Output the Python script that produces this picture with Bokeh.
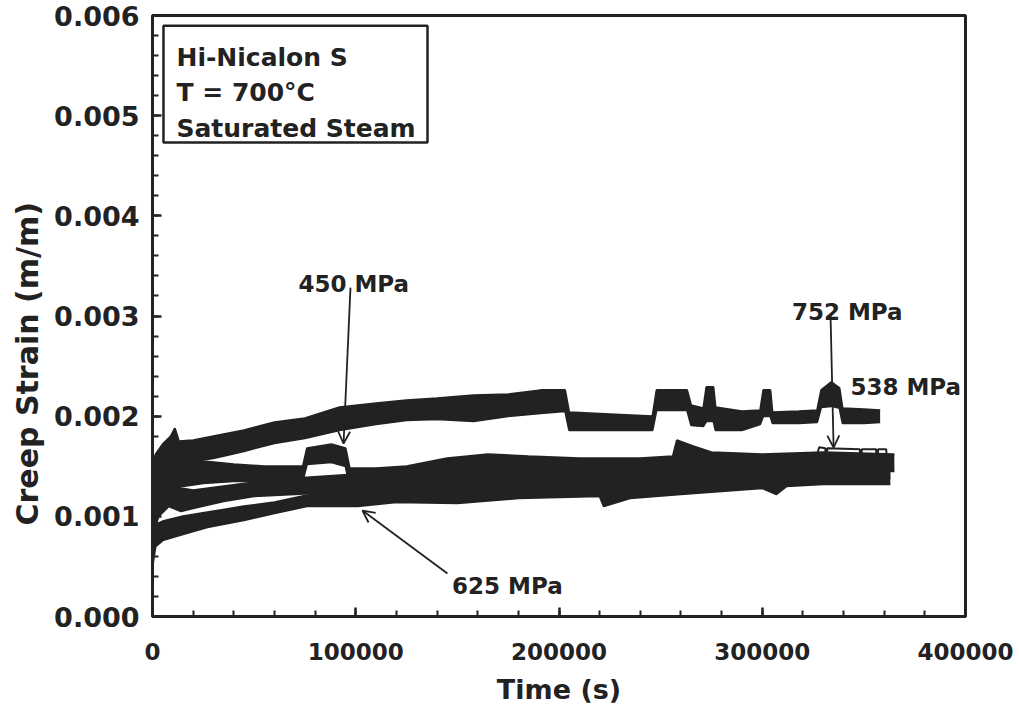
from bokeh.plotting import figure
from bokeh.models import (Range1d, FixedTicker, PrintfTickFormatter, BasicTickFormatter,
                          Label, Arrow, OpenHead, BoxAnnotation, Title)
from bokeh.embed import file_html
from bokeh.resources import INLINE

# ---------------- data (strain values in 1e-3 m/m, time in s) ----------------
t_538 = [0, 1500, 5000, 9000, 11000, 13000, 20000, 30000, 45000, 60000, 75000, 92000,
         110000, 125000, 140000, 158000, 175000, 191000, 203000, 205000, 225000, 246000,
         248000, 263000, 265000, 271000, 272500, 276000, 277000, 290000, 299000, 300500,
         304000, 305000, 318000, 327000, 329000, 334000, 338000, 339500, 350000, 358000]
lo_538 = [1.20, 1.40, 1.45, 1.50, 1.55, 1.52, 1.55, 1.58, 1.65, 1.73, 1.78, 1.86,
          1.92, 1.96, 1.97, 1.95, 2.00, 2.03, 2.05, 1.86, 1.86, 1.86,
          2.06, 2.06, 1.91, 1.90, 1.95, 1.95, 1.86, 1.86, 1.92, 2.00,
          2.00, 1.93, 1.93, 1.94, 2.09, 2.10, 2.08, 1.93, 1.93, 1.94]
hi_538 = [1.45, 1.62, 1.72, 1.80, 1.88, 1.75, 1.76, 1.80, 1.86, 1.94, 1.98, 2.09,
          2.13, 2.16, 2.18, 2.21, 2.22, 2.26, 2.26, 2.04, 2.02, 2.00,
          2.26, 2.26, 2.11, 2.08, 2.29, 2.29, 2.09, 2.05, 2.06, 2.26,
          2.26, 2.04, 2.05, 2.06, 2.26, 2.34, 2.28, 2.08, 2.07, 2.06]

t_450 = [0, 3000, 8000, 15000, 25000, 40000, 55000, 74000, 76000, 88000, 95000, 97000,
         110000, 125000, 145000, 165000, 185000, 210000, 240000, 256000, 258000, 266000,
         275000, 300000, 330000, 365000]
lo_450 = [1.00, 1.25, 1.32, 1.30, 1.33, 1.35, 1.35, 1.36, 1.52, 1.54, 1.50, 1.30,
          1.32, 1.35, 1.40, 1.45, 1.42, 1.40, 1.40, 1.42, 1.52, 1.50,
          1.45, 1.44, 1.45, 1.45]
hi_450 = [1.25, 1.45, 1.55, 1.52, 1.55, 1.52, 1.50, 1.50, 1.68, 1.72, 1.68, 1.48,
          1.48, 1.50, 1.58, 1.62, 1.60, 1.58, 1.58, 1.60, 1.76, 1.70,
          1.64, 1.62, 1.64, 1.62]

t_625 = [0, 1500, 5000, 15000, 27000, 45000, 60000, 76000, 90000, 101000, 120000,
         150000, 180000, 220000, 222000, 235000, 260000, 300000, 307000, 312000,
         330000, 363000]
lo_625 = [0.50, 0.70, 0.76, 0.82, 0.89, 0.96, 1.03, 1.10, 1.10, 1.10, 1.14,
          1.13, 1.18, 1.20, 1.10, 1.18, 1.22, 1.28, 1.22, 1.30,
          1.32, 1.32]
hi_625 = [0.80, 0.92, 0.95, 1.00, 1.04, 1.10, 1.14, 1.21, 1.24, 1.25, 1.30,
          1.35, 1.38, 1.40, 1.40, 1.40, 1.42, 1.45, 1.43, 1.48,
          1.50, 1.50]

t_752 = [0, 3000, 8000, 14000, 20000, 35000, 50000, 70000, 100000, 130000, 160000,
         190000, 220000, 250000, 280000, 305000, 308000, 312000, 326000, 363000]
lo_752 = [0.80, 1.00, 1.10, 1.05, 1.08, 1.15, 1.20, 1.22, 1.25, 1.28, 1.32,
          1.32, 1.30, 1.32, 1.35, 1.36, 1.28, 1.36, 1.38, 1.38]
hi_752 = [1.10, 1.30, 1.38, 1.28, 1.26, 1.30, 1.34, 1.38, 1.42, 1.45, 1.55,
          1.55, 1.52, 1.52, 1.55, 1.56, 1.50, 1.56, 1.58, 1.58]
# final, less noisy part of the 752 MPa record
t_752_end = [326000, 328000, 331000, 331500, 332000, 348000, 348500, 349000,
             356000, 356500, 357000, 361000, 361500]
s_752_end = [1.55, 1.69, 1.68, 1.50, 1.68, 1.67, 1.48, 1.67, 1.67, 1.50, 1.67,
             1.67, 1.45]

x_ticks = [0, 100000, 200000, 300000, 400000]
y_ticks = [0.000, 0.001, 0.002, 0.003, 0.004, 0.005, 0.006]

INK = "#222222"
FONT = "DejaVu Sans"

def sc(v):
    return [a * 1e-3 for a in v]

p = figure(frame_width=813, frame_height=601,
           min_border_left=152, min_border_right=54, min_border_top=15, min_border_bottom=98,
           x_range=Range1d(0, 400000), y_range=Range1d(0, 0.006),
           output_backend="svg", toolbar_location=None)
p.grid.visible = False
p.outline_line_color = INK
p.outline_line_width = 3
p.background_fill_color = "white"
p.border_fill_color = "white"

for t, lo, hi in [(t_625, lo_625, hi_625), (t_752, lo_752, hi_752),
                  (t_450, lo_450, hi_450), (t_538, lo_538, hi_538)]:
    p.varea(x=t, y1=sc(lo), y2=sc(hi), fill_color=INK)
    p.line(x=t, y=sc(lo), line_color=INK, line_width=2)
    p.line(x=t, y=sc(hi), line_color=INK, line_width=2)
p.line(x=t_752_end, y=sc(s_752_end), line_color=INK, line_width=2)

# axes
p.xaxis.ticker = FixedTicker(ticks=x_ticks, minor_ticks=list(range(0, 400001, 20000)))
p.xaxis.formatter = BasicTickFormatter(use_scientific=False)
p.yaxis.ticker = FixedTicker(ticks=y_ticks, minor_ticks=[i * 0.0002 for i in range(31)])
p.yaxis.formatter = PrintfTickFormatter(format="%.3f")
for ax in (p.xaxis[0], p.yaxis[0]):
    ax.axis_line_color = INK
    ax.axis_line_width = 3
    ax.major_tick_line_color = INK
    ax.major_tick_line_width = 2.5
    ax.minor_tick_line_color = INK
    ax.minor_tick_line_width = 2
    ax.major_tick_in = 9
    ax.major_tick_out = 0
    ax.minor_tick_in = 6
    ax.minor_tick_out = 0
    ax.major_label_text_font = FONT
    ax.major_label_text_font_style = "bold"
    ax.major_label_text_color = INK
    ax.axis_label_text_font = FONT
    ax.axis_label_text_font_style = "bold"
    ax.axis_label_text_font_size = "27px"
    ax.axis_label_text_color = INK
p.xaxis.major_label_text_font_size = "23px"
p.yaxis.major_label_text_font_size = "27px"
p.xaxis.axis_label = "Time (s)"
p.xaxis.major_label_standoff = 26
p.xaxis.axis_label_standoff = 11
p.yaxis.major_label_standoff = 13

# y-axis title, placed as in the original (slightly below the frame centre)
p.add_layout(Title(text="Creep Strain (m/m)", align="left", offset=91, standoff=14,
                   text_font=FONT, text_font_style="bold", text_font_size="30px",
                   text_color=INK), "left")

# legend-like box
p.add_layout(BoxAnnotation(left=5400, right=135300, bottom=0.004731, top=0.005898,
                           fill_color="white", fill_alpha=1.0,
                           line_color=INK, line_alpha=1.0, line_width=2.5))
for txt, yb in [("Hi-Nicalon S", 0.005582), ("T = 700°C", 0.005230), ("Saturated Steam", 0.004870)]:
    p.add_layout(Label(x=11800, y=yb, text=txt, text_font=FONT, text_font_style="bold",
                       text_font_size="25px", text_color=INK, text_baseline="alphabetic"))

# stress annotations
for txt, xl, yb in [("450 MPa", 71800, 0.003323), ("752 MPa", 314600, 0.003037),
                    ("538 MPa", 343400, 0.002288), ("625 MPa", 147400, 0.000309)]:
    p.add_layout(Label(x=xl, y=yb, text=txt, text_font=FONT, text_font_style="bold",
                       text_font_size="23px", text_color=INK, text_baseline="alphabetic"))

for xs, ys, xe, ye in [(97400, 0.003283, 94000, 0.001727),
                       (333600, 0.003004, 335100, 0.001687),
                       (145100, 0.000429, 103300, 0.001058)]:
    p.add_layout(Arrow(x_start=xs, y_start=ys, x_end=xe, y_end=ye, line_color=INK,
                       line_width=1.8,
                       end=OpenHead(size=12, line_color=INK, line_width=1.8)))

open("out.html", "w").write(file_html(p, INLINE))
